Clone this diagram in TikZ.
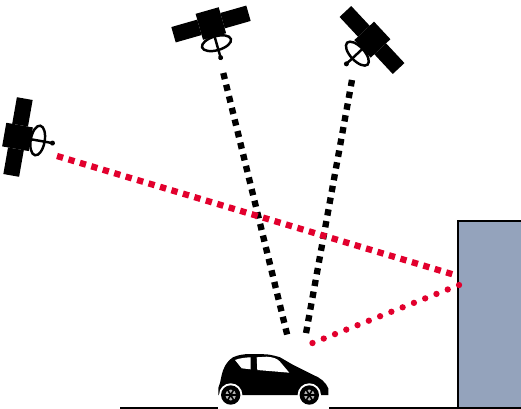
\documentclass[tikz,border=0pt]{standalone}
\usepackage{amsmath}
\definecolor{sigred}{HTML}{E2002D}
\definecolor{wallblue}{HTML}{94A3BC}
\tikzset{
  direct/.style={color=black,line width=3.6pt,dash pattern=on 3.6pt off 3.2pt},
  reflect/.style={color=sigred,line width=3.6pt,dash pattern=on 3.6pt off 3.2pt},
  bounce/.style={color=sigred,line width=3.6pt,line cap=round,dash pattern=on 0pt off 6.9pt},
  satellite/.pic={
    \fill (-12,-14) rectangle (12,13);
    \fill (-39,-8) rectangle (-12,8);
    \fill (12,-8) rectangle (39,8);
    \draw[line width=1.4pt] (0,20) ellipse [x radius=15,y radius=7];
    \draw[line width=1.4pt] (0,12) -- (0,35);
    \fill (0,35) circle (2.5);
  }
}
\begin{document}
\begin{tikzpicture}[x=0.02cm,y=-0.02cm]
  \useasboundingbox (0,0) rectangle (521,409);

  \fill[color=wallblue] (458,221) rectangle (521,408);
  \draw[line width=1.2pt] (521,221) -- (458,221) -- (458,408);
  \draw[line width=1.2pt] (120,408) -- (521,408);

  \pic[rotate=16] at (211,24) {satellite};
  \pic[rotate=-47] at (372,40) {satellite};
  \pic[rotate=80] at (18,137) {satellite};

  \coordinate (S1) at (223.3,73);
  \coordinate (S2) at (352,80);
  \coordinate (S3) at (57,156);
  \coordinate (C1) at (287.5,336);
  \coordinate (C2) at (305.5,336);
  \coordinate (C3) at (310,344);
  \coordinate (W1) at (455,275);
  \coordinate (W2) at (459,285);

  \draw[direct] (S1) -- (C1);
  \draw[direct] (S2) -- (C2);
  \draw[reflect] (S3) -- (W1);
  \draw[bounce] (W2) -- (C3);

  % car
  \fill[color=white] (218,350) rectangle (329,409);
  \fill (218.3,388) -- (220,383) -- (221.7,375) .. controls (223,369) and (226,362) .. (233,357.3)
    .. controls (238,355) and (244,354) .. (250,354) -- (266.7,354.3) .. controls (272,355) and (276,356) .. (280,357.3)
    -- (293.3,365) -- (313.3,375) .. controls (319,377) and (326,382) .. (328.3,388.3)
    -- (328.3,395) -- (218.3,395) -- cycle;
  \fill[color=white] (235,360) .. controls (240,358) and (246,357.5) .. (250.7,357.3) -- (250.7,369.3)
    -- (241.7,368.3) -- cycle;
  \fill[color=white] (256.7,357.3) -- (266.7,356.7) .. controls (273,357) and (278,359) .. (280,361.7)
    -- (289.3,372.7) -- (257.3,370) -- cycle;
  \foreach \wx in {230.7,309.3}{
    \fill[color=white] (\wx,395) circle (11.7);
    \fill (\wx,395) circle (9.7);
    \fill[color=gray!60] (\wx,395) circle (5.5);
    \foreach \ang in {0,60,...,300}
      \draw[line width=0.9pt] (\wx,395) -- ++(\ang:6);
    \fill (\wx,395) circle (2);
  }
\end{tikzpicture}
\end{document}
